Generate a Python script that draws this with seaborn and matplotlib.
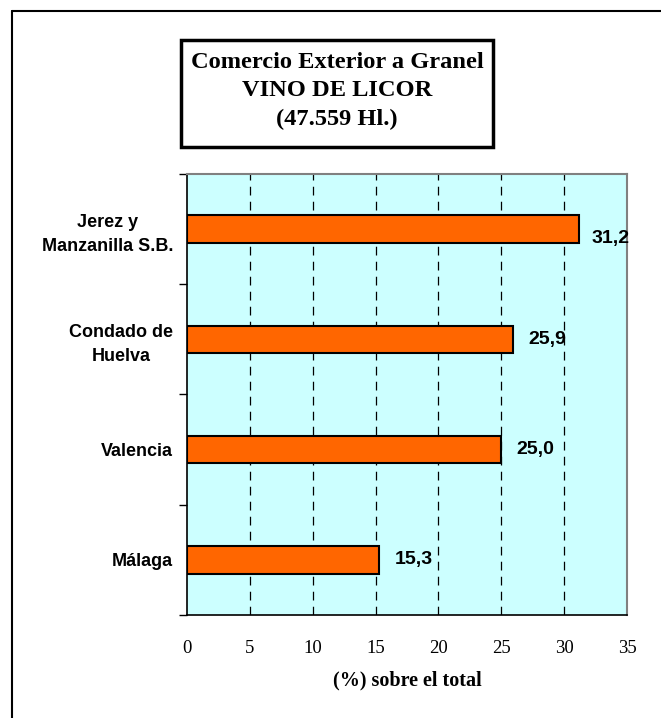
import matplotlib
matplotlib.use("Agg")
import matplotlib.pyplot as plt
import seaborn as sns
import pandas as pd
from matplotlib.patches import Rectangle
from matplotlib.lines import Line2D
from matplotlib.ticker import FixedLocator

categories = ["Jerez y\nManzanilla S.B.", "Condado de\nHuelva", "Valencia", "Málaga"]
values = [31.2, 25.9, 25.0, 15.3]
value_labels = ["31,2", "25,9", "25,0", "15,3"]
x_ticks = [0, 5, 10, 15, 20, 25, 30, 35]
title_lines = "Comercio Exterior a Granel\nVINO DE LICOR\n(47.559 Hl.)"
x_label = "(%) sobre el total"

sns.set_style("white")
plt.rcParams['font.family'] = ['Liberation Sans', 'DejaVu Sans']
for k in ["text.color", "axes.labelcolor", "xtick.color", "ytick.color"]:
    plt.rcParams[k] = "black"

W, H = 661, 718
fig = plt.figure(figsize=(W / 100, H / 100), dpi=100)
ax = fig.add_axes([187 / W, 1 - 615 / H, (627 - 187) / W, (615 - 174) / H])

df = pd.DataFrame({"cat": categories, "val": values})
sns.barplot(data=df, x="val", y="cat", orient="h", width=0.25, color="#FF6600",
            saturation=1, edgecolor="black", linewidth=1.5, ax=ax, zorder=3)

ax.set_facecolor("#CCFFFF")
ax.set_xlim(0, 35)
ax.set_ylim(len(categories) - 0.5, -0.5)
ax.set_xticks(x_ticks)
ax.set_xticklabels([str(t) for t in x_ticks], fontfamily="Liberation Serif", fontsize=13.5)
ax.tick_params(axis="x", direction="out", length=6, width=1, color="black", pad=12)

# grid
for t in x_ticks[1:-1]:
    ax.axvline(t, color="black", linestyle=(0, (7, 5)), linewidth=0.9, zorder=1)

# y labels
ax.set_yticks(range(len(categories)))
ax.set_yticklabels(categories, fontsize=13, fontweight="bold", multialignment="center",
                   linespacing=1.5)
ax.tick_params(axis="y", which="major", length=0, pad=10)
ax.yaxis.set_minor_locator(FixedLocator([i - 0.5 for i in range(len(categories) + 1)]))
ax.tick_params(axis="y", which="minor", direction="out", length=6, width=1, color="black", left=True)
ax.set_ylabel("")
ax.set_xlabel(x_label, fontfamily="Liberation Serif", fontweight="bold", fontsize=14.5, labelpad=10)

for s in ["left", "bottom"]:
    ax.spines[s].set_color("black")
    ax.spines[s].set_linewidth(1.2)
for s in ["top", "right"]:
    ax.spines[s].set_color("#808080")
    ax.spines[s].set_linewidth(1.5)

for i, (v, lab) in enumerate(zip(values, value_labels)):
    dy = -7 if i == 0 else 0
    ax.annotate(lab, xy=(v, i), xytext=(9 if i == 0 else 11, dy), textcoords="offset points",
                va="center", ha="left", fontsize=14, fontweight="bold", zorder=4)

# title box
fig.patches.append(Rectangle((181 / W, 1 - 147 / H), (493 - 181) / W, (147 - 40) / H,
                             transform=fig.transFigure, facecolor="white",
                             edgecolor="black", linewidth=2.5))
fig.text(337 / W, 1 - 91 / H, title_lines, ha="center", va="center",
         fontfamily="Liberation Serif", fontweight="bold", fontsize=17.6, linespacing=1.45)

# outer frame (top and left lines)
fig.add_artist(Line2D([12 / W, 1], [1 - 11 / H, 1 - 11 / H], transform=fig.transFigure,
                      color="black", linewidth=1.5))
fig.add_artist(Line2D([12 / W, 12 / W], [0, 1 - 11 / H], transform=fig.transFigure,
                      color="black", linewidth=1.5))

fig.savefig("out.png", dpi=100)
